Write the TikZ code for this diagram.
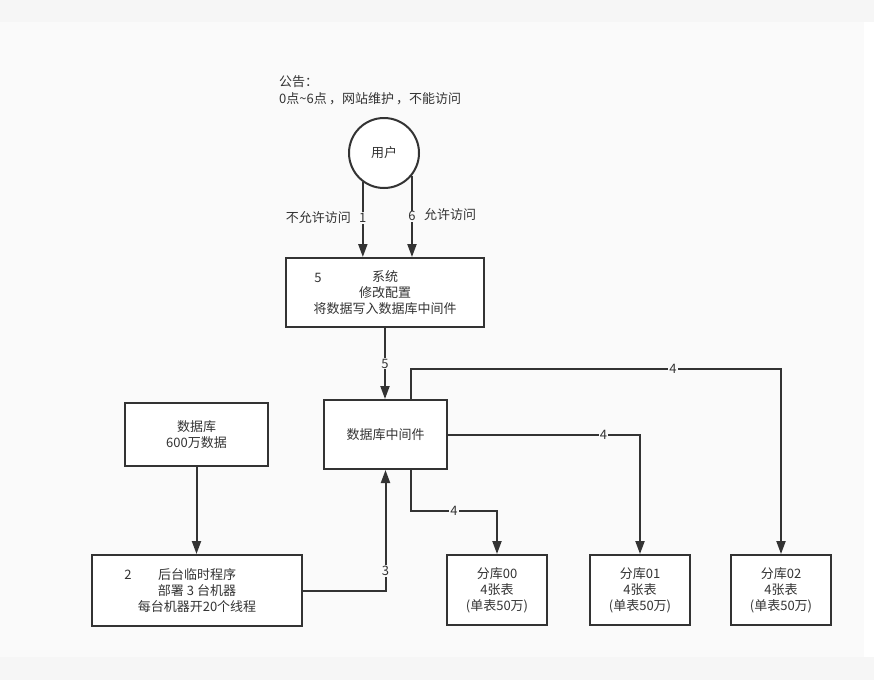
\documentclass[tikz,border=0pt]{standalone}
\usepackage{fontspec}
\setmainfont{Noto Sans CJK SC}
\usetikzlibrary{arrows.meta}
\definecolor{ink}{HTML}{333333}
\definecolor{bgmain}{HTML}{FAFAFA}
\definecolor{bgtop}{HTML}{F6F6F6}
\newcommand{\fs}{\fontsize{13}{16}\selectfont}
\begin{document}
\begin{tikzpicture}[x=1pt,y=-1pt,
  box/.style={draw=ink, line width=2pt, fill=white, text=ink, align=center, inner sep=0pt, font=\fs},
  conn/.style={draw=ink, line width=2pt},
  arr/.style={conn, -{Triangle[length=13pt,width=9pt]}},
  lbl/.style={fill=bgmain, text=ink, inner sep=1pt, font=\fs},
  txt/.style={text=ink, inner sep=0pt, font=\fs}]
% background
\fill[bgtop] (0,0) rectangle (874,680);
\fill[bgmain] (0,22) rectangle (864,657);
\fill[white] (864,22) rectangle (874,657);
\useasboundingbox (0,0) rectangle (874,680);

% announcement
\node[txt, anchor=north west, align=left, font=\fontsize{13}{17}\selectfont] (note) at (279,75) {公告：\\0点\textasciitilde 6点\,，网站维护\,，不能访问};

% nodes
\node[draw=ink, line width=2pt, circle, minimum size=70pt, fill=white, text=ink, font=\fs, inner sep=0pt] (user) at (384,153) {用户};
\node[box, minimum width=198pt, minimum height=69pt] (sys) at (385,292.5) {系统\\修改配置\\将数据写入数据库中间件};
\node[txt] (sysnum) at (318,278) {5};
\node[box, minimum width=123pt, minimum height=69pt] (mid) at (385.5,434.5) {数据库中间件};
\node[box, minimum width=143pt, minimum height=63pt] (db) at (196.5,434.5) {数据库\\600万数据};
\node[box, minimum width=210pt, minimum height=71pt] (prog) at (197,590.5) {后台临时程序\\部署 3 台机器\\每台机器开20个线程};
\node[txt] (prognum) at (128,575) {2};
\node[box, minimum width=100pt, minimum height=70pt] (s0) at (497,590) {分库00\\4张表\\(单表50万)};
\node[box, minimum width=100pt, minimum height=70pt] (s1) at (640,590) {分库01\\4张表\\(单表50万)};
\node[box, minimum width=100pt, minimum height=70pt] (s2) at (781,590) {分库02\\4张表\\(单表50万)};

% side texts
\node[txt, anchor=east] (deny) at (351,218) {不允许访问};
\node[txt, anchor=west] (allow) at (424,215) {允许访问};

% connectors
\draw[arr] (user.-126.87) -- node[lbl, pos=0.48]{1} (user.-126.87 |- sys.north);
\draw[arr] (user.-39.5) -- node[lbl, pos=0.5]{6} (user.-39.5 |- sys.north);
\draw[arr] (sys.south) -- node[lbl]{5} (sys.south |- mid.north);
\draw[arr] ([xshift=25.5pt]mid.north) |- node[lbl, pos=0.854]{4} ([yshift=185pt]s2.north) -- (s2.north);
\draw[arr] (mid.east) -| node[lbl, pos=0.405]{4} (s1.north);
\draw[arr] ([xshift=25.5pt]mid.south) |- node[lbl, pos=0.75]{4} ([yshift=43pt]s0.north) -- (s0.north);
\draw[arr] (db.south) -- (db.south |- prog.north);
\draw[arr] (prog.east) -| node[lbl, pos=0.58]{3} (mid.south);
\end{tikzpicture}
\end{document}
